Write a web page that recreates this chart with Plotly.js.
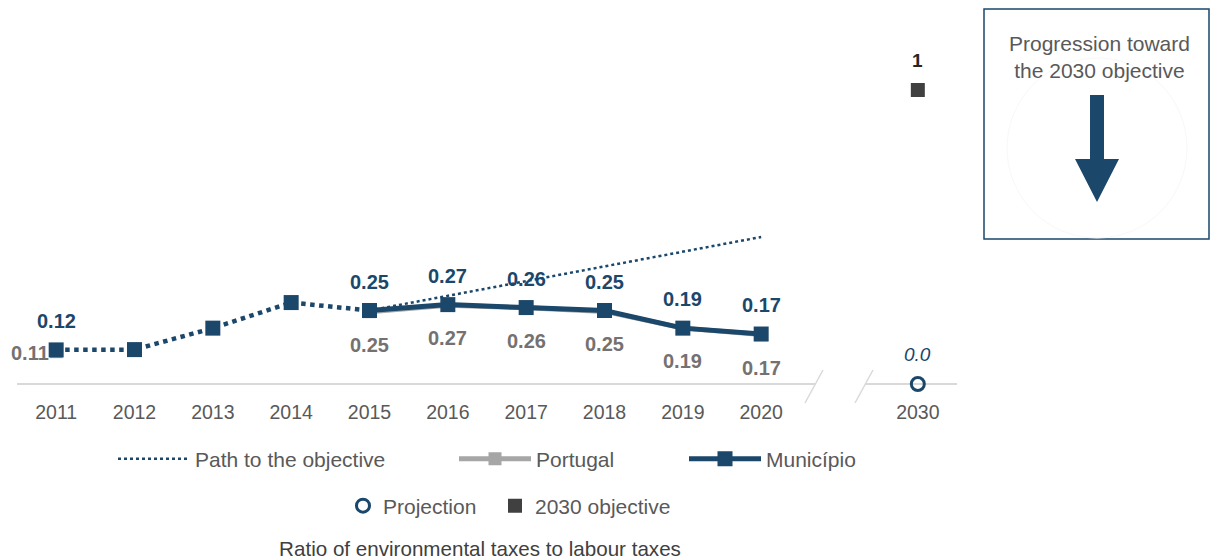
<!DOCTYPE html>
<html>
<head>
<meta charset="utf-8">
<script src="https://cdn.plot.ly/plotly-3.0.1.min.js"></script>
<style>html,body{margin:0;padding:0;background:#fff;}#chart{width:1211px;height:560px;}</style>
</head>
<body>
<div id="chart"></div>
<script>
// ---- data ----
const years = [2011, 2012, 2013, 2014, 2015, 2016, 2017, 2018, 2019, 2020];
const municipio = [0.116, 0.117, 0.19, 0.277, 0.25, 0.27, 0.26, 0.25, 0.19, 0.17];
const portugal = [0.11, null, null, null, 0.246, 0.268, 0.259, 0.247, 0.19, 0.168];
const pathYears = [2015, 2020];
const pathValues = [0.25, 0.5];
const targetYear = 2030;
const projectionValue = [0.0];
const objectiveValue = [1];
const tickYears = [2011, 2012, 2013, 2014, 2015, 2016, 2017, 2018, 2019, 2020, 2030];
const labelledYearsMun = [2011, 2015, 2016, 2017, 2018, 2019, 2020];

// ---- layout helpers ----
const NAVY = '#1b476b';
const GREY = '#a6a6a6';
const TXT = '#595959';
const FONT = 'Liberation Sans, Arial, sans-serif';
const M = {l: 17, r: 254, t: 20, b: 162};
const PW = 1211 - M.l - M.r, PH = 560 - M.t - M.b;
const px = v => (v - M.l) / PW;
const py = v => (560 - M.b - v) / PH;
// axis position of a year (2030 placed after a broken axis)
const pos = y => (y <= 2020 ? y - 2011 : 11);

const histIdx = years.map((y, i) => i).filter(i => years[i] <= 2015);
const recentIdx = years.map((y, i) => i).filter(i => years[i] >= 2015);

const traces = [
  {x: pathYears.map(pos), y: pathValues, mode: 'lines', name: 'Path to the objective',
   line: {color: NAVY, width: 2.5, dash: 'dot'}, legend: 'legend', hoverinfo: 'skip'},
  {x: years.map(pos), y: portugal, mode: 'lines+markers', name: 'Portugal', connectgaps: false,
   line: {color: GREY, width: 5}, marker: {symbol: 'square', size: 13, color: GREY}, legend: 'legend2'},
  {x: histIdx.map(i => pos(years[i])), y: histIdx.map(i => municipio[i]), mode: 'lines+markers',
   name: 'Município (hist)', showlegend: false,
   line: {color: NAVY, width: 4.5, dash: 'dot'}, marker: {symbol: 'square', size: 15, color: NAVY}},
  {x: recentIdx.map(i => pos(years[i])), y: recentIdx.map(i => municipio[i]), mode: 'lines+markers',
   name: 'Município', line: {color: NAVY, width: 5}, marker: {symbol: 'square', size: 15, color: NAVY}, legend: 'legend3'},
  {x: [pos(targetYear)], y: projectionValue, mode: 'markers', name: 'Projection',
   marker: {symbol: 'circle-open', size: 13, color: NAVY, line: {width: 3, color: NAVY}}, legend: 'legend4'},
  {x: [pos(targetYear)], y: objectiveValue, mode: 'markers', name: '2030 objective',
   marker: {symbol: 'square', size: 14, color: '#404040'}, legend: 'legend5'}
];

const annotations = [];
labelledYearsMun.forEach(y => {
  const i = years.indexOf(y);
  annotations.push({x: pos(y), y: municipio[i], text: municipio[i].toFixed(2), showarrow: false,
    yshift: 29, font: {family: FONT, size: 20, color: NAVY, weight: 'bold'}});
});
years.forEach((y, i) => {
  if (portugal[i] === null) return;
  const first = y === 2011;
  annotations.push({x: pos(y), y: portugal[i], text: portugal[i].toFixed(2), showarrow: false,
    xshift: first ? -26 : 0, yshift: first ? -1 : -33,
    font: {family: FONT, size: 20, color: '#757171', weight: 'bold'}});
});
annotations.push({x: pos(targetYear), y: projectionValue[0], text: projectionValue[0].toFixed(1), showarrow: false,
  yshift: 30, font: {family: FONT, size: 19, color: NAVY, style: 'italic'}});
annotations.push({x: pos(targetYear), y: objectiveValue[0], text: String(objectiveValue[0]), showarrow: false,
  yshift: 30, font: {family: FONT, size: 19, color: '#262626', weight: 'bold'}});
annotations.push({xref: 'paper', yref: 'paper', x: px(1099), y: py(57), text: 'Progression toward<br>the 2030 objective',
  showarrow: false, xanchor: 'center', yanchor: 'middle', font: {family: FONT, size: 21, color: TXT}});

const shapes = [
  {type: 'line', xref: 'x', yref: 'y', x0: -0.5, x1: 9.69, y0: 0, y1: 0, line: {color: '#d9d9d9', width: 2}, layer: 'below'},
  {type: 'line', xref: 'x', yref: 'y', x0: 10.33, x1: 11.5, y0: 0, y1: 0, line: {color: '#d9d9d9', width: 2}, layer: 'below'},
  {type: 'line', xref: 'paper', yref: 'paper', x0: px(805), y0: py(403), x1: px(823), y1: py(370), line: {color: '#d9d9d9', width: 1.5}},
  {type: 'line', xref: 'paper', yref: 'paper', x0: px(855), y0: py(403), x1: px(873), y1: py(370), line: {color: '#d9d9d9', width: 1.5}},
  {type: 'rect', xref: 'paper', yref: 'paper', x0: px(984), y0: py(9), x1: px(1209), y1: py(239), line: {color: NAVY, width: 1.5}},
  {type: 'circle', xref: 'paper', yref: 'paper', x0: px(1007), y0: py(58), x1: px(1187), y1: py(238), line: {color: '#f8f8f8', width: 1}},
  {type: 'path', xref: 'paper', yref: 'paper',
   path: 'M' + px(1090) + ',' + py(95) + ' L' + px(1104) + ',' + py(95) + ' L' + px(1104) + ',' + py(159) +
         ' L' + px(1119) + ',' + py(159) + ' L' + px(1097) + ',' + py(202) + ' L' + px(1075) + ',' + py(159) +
         ' L' + px(1090) + ',' + py(159) + ' Z',
   fillcolor: NAVY, line: {width: 0}}
];

const legendBase = {orientation: 'h', xanchor: 'left', yanchor: 'middle', bgcolor: 'rgba(0,0,0,0)',
  font: {family: FONT, size: 21, color: TXT}, itemwidth: 72, itemclick: false, itemdoubleclick: false};

const layout = {
  width: 1211, height: 560, margin: M, paper_bgcolor: '#fff', plot_bgcolor: '#fff',
  showlegend: true,
  title: {text: 'Ratio of environmental taxes to labour taxes', x: 480 / 1211, xanchor: 'center',
    xref: 'container', yref: 'container', y: 1 - 549 / 560, yanchor: 'middle',
    font: {family: FONT, size: 20.6, color: '#404040'}},
  xaxis: {range: [-0.5, 11.5], tickvals: tickYears.map(pos), ticktext: tickYears.map(String),
    showgrid: false, zeroline: false, showline: false, ticks: '',
    tickfont: {family: FONT, size: 19.5, color: TXT}, fixedrange: true},
  yaxis: {range: [-(560 - M.b - 384) / 294, (384 - M.t) / 294], visible: false,
    showgrid: false, zeroline: false, fixedrange: true},
  legend: Object.assign({}, legendBase, {x: px(113), y: py(459)}),
  legend2: Object.assign({}, legendBase, {x: px(454), y: py(459)}),
  legend3: Object.assign({}, legendBase, {x: px(684), y: py(459)}),
  legend4: Object.assign({}, legendBase, {x: px(343), y: py(506), itemwidth: 30}),
  legend5: Object.assign({}, legendBase, {x: px(495), y: py(506), itemwidth: 30}),
  annotations: annotations,
  shapes: shapes
};

Plotly.newPlot('chart', traces, layout, {displayModeBar: false, staticPlot: true});
</script>
</body>
</html>
